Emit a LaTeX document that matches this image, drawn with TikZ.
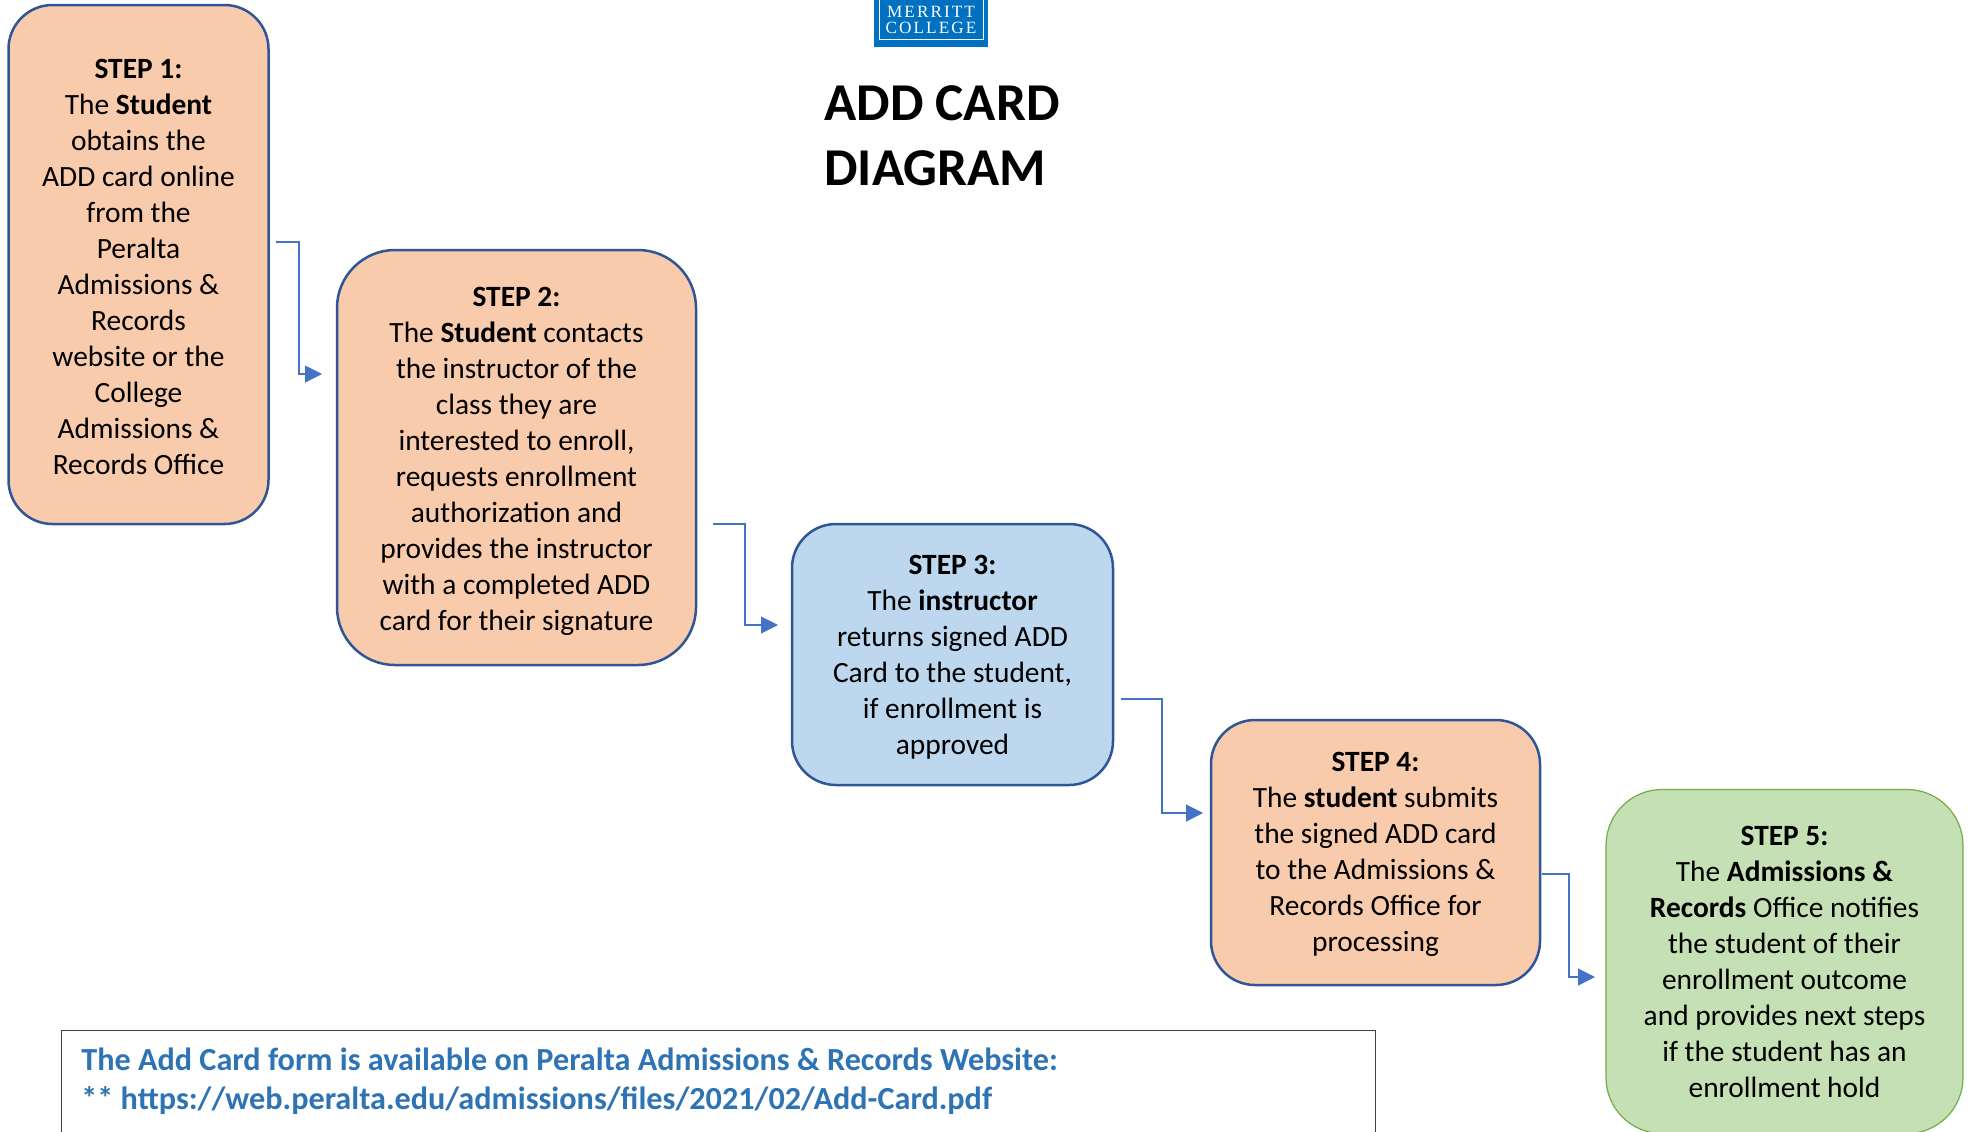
\documentclass[tikz,border=0pt]{standalone}
\usepackage{fontspec}
\usepackage{tikz}
\usetikzlibrary{arrows.meta}
\setmainfont{Carlito}
\newfontfamily\logofont[LetterSpace=12]{Liberation Serif}
\newcommand{\pushdown}[1]{\rule{0pt}{#1}}
\definecolor{peach}{HTML}{F8CBAD}
\definecolor{skyfill}{HTML}{BDD7EE}
\definecolor{greenfill}{HTML}{C5E0B4}
\definecolor{boxline}{HTML}{2F5597}
\definecolor{greenline}{HTML}{70AD47}
\definecolor{linkblue}{HTML}{4472C4}
\definecolor{noteblue}{HTML}{2E74B5}
\definecolor{logoblue}{HTML}{0070C0}
\begin{document}
\begin{tikzpicture}[x=0.5pt,y=-0.5pt]
			\tikzstyle{every node}=[inner sep=0pt, align=center, font=\fontsize{14.7}{18}\selectfont]
			\tikzstyle{stepbox}=[draw=boxline, line width=1.25pt, fill=peach]
			\tikzstyle{link}=[draw=linkblue, line width=0.55pt, -{Triangle[length=8.5pt,width=8.5pt]}]
			\useasboundingbox (0,0) rectangle (1971,1131);
			\clip (0,0) rectangle (1971,1131);

			\node[stepbox, rounded corners=22pt, minimum width=130pt, minimum height=259.5pt] (step1) at (138.5,264.5) {\pushdown{11.6pt}\textbf{STEP 1:}\\The \textbf{Student}\\obtains the\\ADD card online\\from the\\Peralta\\Admissions \&\\Records\\website or the\\College\\Admissions \&\\Records Office};
			\node[stepbox, rounded corners=29pt, minimum width=179.5pt, minimum height=207.5pt] (step2) at (516.5,457.5) {\pushdown{14pt}\textbf{STEP 2:}\\The \textbf{Student} contacts\\the instructor of the\\class they are\\interested to enroll,\\requests enrollment\\authorization and\\provides the instructor\\with a completed ADD\\card for their signature};
			\node[stepbox, fill=skyfill, rounded corners=22pt, minimum width=160.5pt, minimum height=130.5pt] (step3) at (952.5,654.5) {\pushdown{12.6pt}\textbf{STEP 3:}\\The \textbf{instructor}\\returns signed ADD\\Card to the student,\\if enrollment is\\approved};
			\node[stepbox, rounded corners=22pt, minimum width=164.5pt, minimum height=132.5pt] (step4) at (1375.5,852.5) {\pushdown{11.8pt}\textbf{STEP 4:}\\The \textbf{student} submits\\the signed ADD card\\to the Admissions \&\\Records Office for\\processing};
			\node[draw=greenline, line width=0.6pt, fill=greenfill, rounded corners=28pt, minimum width=178.5pt, minimum height=172pt] (step5) at (1784.5,961.5) {\textbf{STEP 5:}\\The \textbf{Admissions \&}\\\textbf{Records} Office notifies\\the student of their\\enrollment outcome\\and provides next steps\\if the student has an\\enrollment hold};

			% connectors stop short of the boxes
			\coordinate (from1) at (276,242);
			\coordinate (bend1) at (299,374);
			\coordinate (to1) at (322,374);
			\coordinate (from2) at (713,524);
			\coordinate (bend2) at (745,625);
			\coordinate (to2) at (778,625);
			\coordinate (from3) at (1121,699);
			\coordinate (bend3) at (1162,813);
			\coordinate (to3) at (1203,813);
			\coordinate (from4) at (1542,874);
			\coordinate (bend4) at (1569,977);
			\coordinate (to4) at (1595,977);
			\draw[link] (from1) -| (bend1) -- (to1);
			\draw[link] (from2) -| (bend2) -- (to2);
			\draw[link] (from3) -| (bend3) -- (to3);
			\draw[link] (from4) -| (bend4) -- (to4);

			\node[fill=logoblue, minimum width=57pt, minimum height=30pt, anchor=south west] (logo) at (874,47) {};
			\node[draw=white, line width=0.5pt, minimum width=52pt, minimum height=30pt, anchor=south] (logoframe) at (931,40) {};
			\node[text=white, font=\logofont\fontsize{8.6}{8}\selectfont] (logotext) at (931,20) {MERRITT\\COLLEGE};

			\node[anchor=north west, align=left, font=\fontsize{26.6}{32.5}\selectfont\bfseries] (title) at (824,85) {ADD CARD\\DIAGRAM};

			\node[draw=black!75, line width=0.6pt, minimum width=657pt, minimum height=70pt, anchor=north west] (note) at (60.5,1030) {};
			\node[anchor=north west, align=left, text=noteblue, font=\fontsize{16.1}{19.5}\selectfont\bfseries] (notetext) at (81,1047) {The Add Card form is available on Peralta Admissions \& Records Website:\\** https://web.peralta.edu/admissions/files/2021/02/Add-Card.pdf};

		\end{tikzpicture}
\end{document}
